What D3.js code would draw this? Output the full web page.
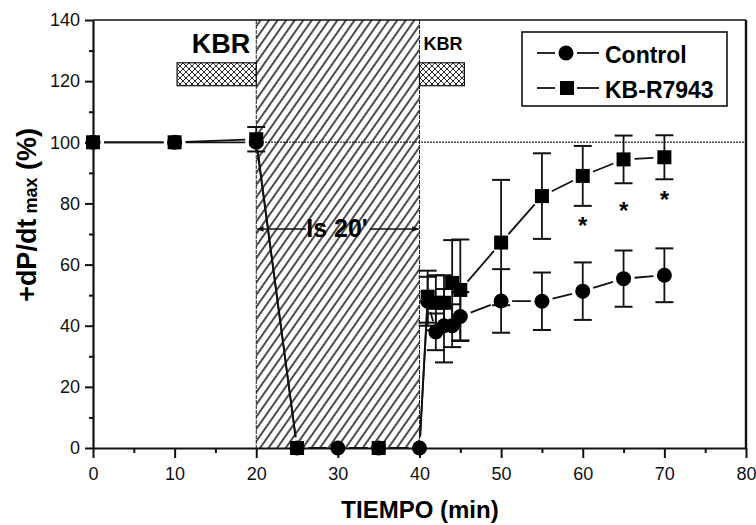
<!DOCTYPE html>
<html><head><meta charset="utf-8">
<script src="https://cdn.jsdelivr.net/npm/d3@7/dist/d3.min.js"></script>
<style>
html,body{margin:0;padding:0;background:#fff;}
svg{display:block;font-family:"Liberation Sans",Arial,sans-serif;}
</style></head>
<body>
<svg id="chart" width="756" height="525"></svg>
<script>
// ---- data ----
const times       = [0, 10, 20, 25, 30, 35, 40, 41, 42, 43, 44, 45, 50, 55, 60, 65, 70];
const controlMean = [100, 100, 100, 0, 0, 0, 0, 48, 38, 40, 40, 43, 48.1, 48, 51.3, 55.4, 56.5];
const controlSD   = [0, 0, 0, 0, 0, 0, 0, 8, 6, 12, 7, 8, 10.4, 9.4, 9.4, 9.2, 8.8];
const kbMean      = [100, 100, 101, 0, 0, 0, 0, 49.5, 47.5, 47.5, 54, 51.7, 67.2, 82.4, 89, 94.4, 95.1];
const kbSD        = [0, 0, 4, 0, 0, 0, 0, 8.5, 9, 9, 14, 16.5, 20.5, 14, 9.8, 7.8, 7.2];
const starTimes   = [60, 65, 70];
const starValues  = [74.4, 79, 82.8];
const ischemia    = [20, 40];
const kbrPeriods  = [[10.3, 20], [40, 45.5]];
const kbrBand     = [118.5, 126];
const xTicks      = [0, 10, 20, 30, 40, 50, 60, 70, 80];
const xMinor      = [5, 15, 25, 35, 45, 55, 65, 75];
const yTicks      = [0, 20, 40, 60, 80, 100, 120, 140];
const yMinor      = [10, 30, 50, 70, 90, 110, 130];
const seriesNames = ["Control", "KB-R7943"];
const squareHiddenAt = [30, 40];   // circle drawn over the square at these overlapping points

// ---- setup ----
const svg = d3.select("#chart");
const x = d3.scaleLinear().domain([0, 80]).range([93, 746]);
const y = d3.scaleLinear().domain([0, 140]).range([448, 20]);
const FONT = '"Liberation Sans", Arial, sans-serif';

const defs = svg.append("defs");
const hp = defs.append("pattern").attr("id", "hatch")
  .attr("patternUnits", "userSpaceOnUse").attr("width", 7.0).attr("height", 10)
  .attr("patternTransform", "rotate(35)");
hp.append("line").attr("x1", 1).attr("y1", -1).attr("x2", 1).attr("y2", 11)
  .attr("stroke", "#000").attr("stroke-width", 1.4);
const cp = defs.append("pattern").attr("id", "cross")
  .attr("patternUnits", "userSpaceOnUse").attr("width", 6).attr("height", 6);
cp.append("path").attr("d", "M0,0L6,6M6,0L0,6M-1,5L1,7M5,-1L7,1")
  .attr("stroke", "#111").attr("stroke-width", 0.9).attr("fill", "none");

// ischemia hatched area
svg.append("rect")
  .attr("x", x(ischemia[0])).attr("y", y(140))
  .attr("width", x(ischemia[1]) - x(ischemia[0])).attr("height", y(0) - y(140))
  .attr("fill", "url(#hatch)");
ischemia.forEach(t => {
  svg.append("line").attr("x1", x(t)).attr("x2", x(t)).attr("y1", y(140)).attr("y2", y(0))
    .attr("stroke", "#222").attr("stroke-width", 1).attr("stroke-dasharray", "4,1");
});

// dotted 100% line
svg.append("line").attr("x1", x(20)).attr("x2", x(80)).attr("y1", y(100)).attr("y2", y(100))
  .attr("stroke", "#111").attr("stroke-width", 1.5).attr("stroke-dasharray", "1.5,1.5");

// KBR bars
kbrPeriods.forEach(p => {
  svg.append("rect").attr("x", x(p[0])).attr("y", y(kbrBand[1]))
    .attr("width", x(p[1]) - x(p[0])).attr("height", y(kbrBand[0]) - y(kbrBand[1]))
    .attr("fill", "url(#cross)").attr("stroke", "#111").attr("stroke-width", 1.2);
});
svg.append("text").attr("x", x(20) - 6).attr("y", 53).attr("text-anchor", "end")
  .attr("font-weight", "bold").attr("font-size", 27).text("KBR");
svg.append("text").attr("x", x(40) + 4).attr("y", 50)
  .attr("font-weight", "bold").attr("font-size", 18).text("KBR");

// Ischemia label with arrows
defs.append("marker").attr("id", "arr").attr("viewBox", "0 0 10 10")
  .attr("refX", 9).attr("refY", 5).attr("markerWidth", 9).attr("markerHeight", 7)
  .attr("orient", "auto").attr("markerUnits", "userSpaceOnUse")
  .append("path").attr("d", "M0,1L10,5L0,9Z").attr("fill", "#111");
const arrowY = 229;
svg.append("line").attr("x1", 306).attr("x2", x(20) + 1).attr("y1", arrowY).attr("y2", arrowY)
  .attr("stroke", "#111").attr("stroke-width", 1.5).attr("marker-end", "url(#arr)");
svg.append("line").attr("x1", 370).attr("x2", x(40) - 1).attr("y1", arrowY).attr("y2", arrowY)
  .attr("stroke", "#111").attr("stroke-width", 1.5).attr("marker-end", "url(#arr)");
svg.append("text").attr("x", 337).attr("y", 237).attr("text-anchor", "middle")
  .attr("font-weight", "bold").attr("font-size", 25).text("Is 20'");

// axes
svg.append("g").attr("transform", `translate(${x(0)},0)`)
  .call(d3.axisLeft(y).tickValues(yTicks).tickSize(8).tickSizeOuter(0).tickPadding(5));
svg.append("g").attr("transform", `translate(${x(0)},0)`)
  .call(d3.axisLeft(y).tickValues(yMinor).tickSize(4).tickSizeOuter(0).tickFormat(""))
  .select(".domain").remove();
svg.append("g").attr("transform", `translate(0,${y(0)})`)
  .call(d3.axisBottom(x).tickValues(xTicks).tickSize(10).tickSizeOuter(0).tickPadding(9));
svg.append("g").attr("transform", `translate(0,${y(0)})`)
  .call(d3.axisBottom(x).tickValues(xMinor).tickSize(5).tickSizeOuter(0).tickFormat(""))
  .select(".domain").remove();
svg.selectAll(".tick line").attr("stroke", "#111").attr("stroke-width", 2);
svg.selectAll(".domain").attr("stroke", "#111").attr("stroke-width", 2.2);
svg.selectAll(".tick text").attr("font-size", 18).attr("font-family", FONT).attr("fill", "#111");
// frame top & right
svg.append("line").attr("x1", x(0)).attr("x2", x(80)).attr("y1", y(140)).attr("y2", y(140))
  .attr("stroke", "#111").attr("stroke-width", 1.6);
svg.append("line").attr("x1", x(80)).attr("x2", x(80)).attr("y1", y(140)).attr("y2", y(0))
  .attr("stroke", "#111").attr("stroke-width", 2.4);

// axis titles
svg.append("text").attr("x", 420).attr("y", 518).attr("text-anchor", "middle")
  .attr("font-weight", "bold").attr("font-size", 24).text("TIEMPO (min)");
const yl = svg.append("text").attr("transform", "translate(36,215) rotate(-90)")
  .attr("text-anchor", "middle").attr("font-weight", "bold").attr("font-size", 27);
yl.append("tspan").text("+dP/dt");
yl.append("tspan").attr("font-size", 18).attr("dy", 1).text(" max");
yl.append("tspan").attr("dy", -1).text(" (%)");

// series
const ctrl = times.map((t, i) => ({t, m: controlMean[i], sd: controlSD[i]}));
const kb = times.map((t, i) => ({t, m: kbMean[i], sd: kbSD[i]}));
const GAP = 11;
function drawLine(data) {
  for (let i = 0; i < data.length - 1; i++) {
    const x0 = x(data[i].t), y0 = y(data[i].m), x1 = x(data[i + 1].t), y1 = y(data[i + 1].m);
    const L = Math.hypot(x1 - x0, y1 - y0);
    if (L <= 2 * GAP + 2) continue;
    const ux = (x1 - x0) / L, uy = (y1 - y0) / L;
    svg.append("line").attr("x1", x0 + ux * GAP).attr("y1", y0 + uy * GAP)
      .attr("x2", x1 - ux * GAP).attr("y2", y1 - uy * GAP)
      .attr("stroke", "#111").attr("stroke-width", 1.8);
  }
}
function drawErr(data) {
  data.filter(d => d.sd > 0).forEach(d => {
    const cx = x(d.t);
    svg.append("line").attr("x1", cx).attr("x2", cx).attr("y1", y(d.m + d.sd)).attr("y2", y(d.m - d.sd))
      .attr("stroke", "#111").attr("stroke-width", 1.8);
    [d.m + d.sd, d.m - d.sd].forEach(v => {
      svg.append("line").attr("x1", cx - 9).attr("x2", cx + 9).attr("y1", y(v)).attr("y2", y(v))
        .attr("stroke", "#111").attr("stroke-width", 2);
    });
  });
}
drawLine(ctrl); drawLine(kb);
drawErr(ctrl); drawErr(kb);
function circles(data) {
  svg.append("g").selectAll("circle").data(data).join("circle")
    .attr("cx", d => x(d.t)).attr("cy", d => y(d.m)).attr("r", 7.5).attr("fill", "#000");
}
function squares(data) {
  svg.append("g").selectAll("rect").data(data).join("rect")
    .attr("x", d => x(d.t) - 7).attr("y", d => y(d.m) - 7).attr("width", 14).attr("height", 14)
    .attr("fill", "#000");
}
circles(ctrl);
squares(kb.filter(d => !squareHiddenAt.includes(d.t)));

// stars
starTimes.forEach((t, i) => {
  svg.append("text").attr("x", x(t)).attr("y", y(starValues[i]) + 13).attr("text-anchor", "middle")
    .attr("font-weight", "bold").attr("font-size", 24).text("*");
});

// legend
svg.append("rect").attr("x", 522).attr("y", 32).attr("width", 205).attr("height", 74)
  .attr("fill", "#fff").attr("stroke", "#111").attr("stroke-width", 1.6);
const legY = [53, 88];
legY.forEach((ly, i) => {
  svg.append("line").attr("x1", 537).attr("x2", 555).attr("y1", ly).attr("y2", ly)
    .attr("stroke", "#111").attr("stroke-width", 1.8);
  svg.append("line").attr("x1", 577).attr("x2", 599).attr("y1", ly).attr("y2", ly)
    .attr("stroke", "#111").attr("stroke-width", 1.8);
  if (i === 0) svg.append("circle").attr("cx", 566).attr("cy", ly).attr("r", 7.5).attr("fill", "#000");
  else svg.append("rect").attr("x", 560).attr("y", ly - 7).attr("width", 14).attr("height", 14).attr("fill", "#000");
  svg.append("text").attr("x", 605).attr("y", ly + 10).attr("font-weight", "bold")
    .attr("font-size", 23).text(seriesNames[i]);
});
</script>
</body></html>
